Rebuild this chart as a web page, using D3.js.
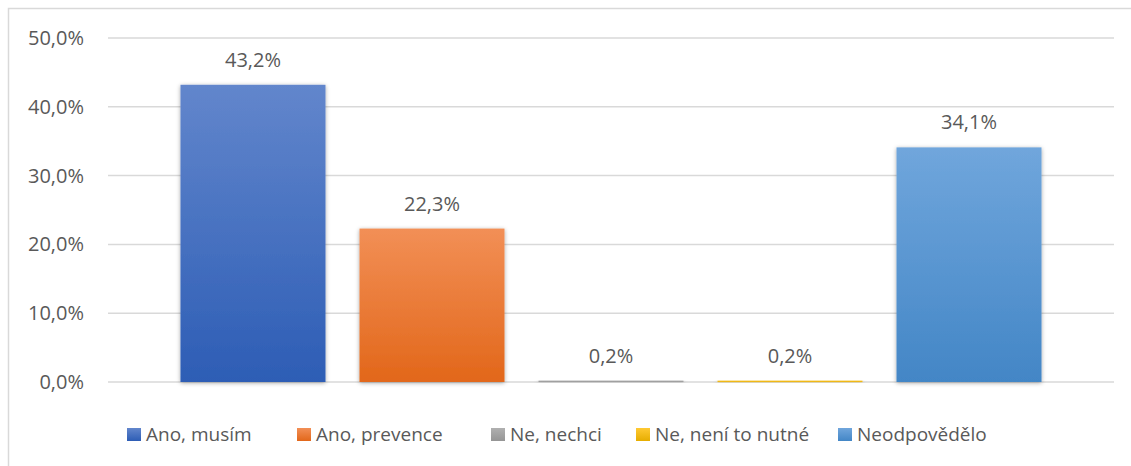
<!DOCTYPE html>
<html>
<head>
<meta charset="utf-8">
<style>
html, body { margin: 0; padding: 0; background: #fff; }
text { font-family: "Open Sans", "Noto Sans", sans-serif; fill: #595959; }
.grid line { stroke: #d9d9d9; stroke-width: 1.5; }
</style>
</head>
<body>
<script src="https://cdn.jsdelivr.net/npm/d3@7"></script>
<script>
var width = 1131
var height = 466

var series = ['Ano, musím', 'Ano, prevence', 'Ne, nechci', 'Ne, není to nutné', 'Neodpovědělo']
var values = [43.2, 22.3, 0.2, 0.2, 34.1]
var colorsTop = ['#6286cc', '#f28f56', '#b0b0b0', '#ffc933', '#70a6dc']
var colorsBottom = ['#2d5db5', '#e2671a', '#959595', '#e6ad00', '#4386c6']
var ticks = [0, 10, 20, 30, 40, 50]

var fmt = function (v) { return v.toFixed(1).replace('.', ',') }

var svg = d3.select('body').append('svg')
    .attr('width', width)
    .attr('height', height)

var defs = svg.append('defs')
series.forEach(function (s, i) {
    var g = defs.append('linearGradient')
        .attr('id', 'g' + i)
        .attr('x1', 0).attr('y1', 0).attr('x2', 0).attr('y2', 1)
    g.append('stop').attr('offset', '0%').attr('stop-color', colorsTop[i])
    g.append('stop').attr('offset', '100%').attr('stop-color', colorsBottom[i])
})
var f = defs.append('filter').attr('id', 'shadow')
    .attr('x', '-10%').attr('y', '-10%').attr('width', '120%').attr('height', '120%')
f.append('feDropShadow')
    .attr('dx', 0).attr('dy', 1).attr('stdDeviation', 2)
    .attr('flood-color', '#000').attr('flood-opacity', 0.35)

// outer chart border
svg.append('rect')
    .attr('x', 8.5).attr('y', 8.5)
    .attr('width', width + 20).attr('height', height + 20)
    .attr('fill', 'none')
    .attr('stroke', '#d9d9d9')
    .attr('stroke-width', 1.5)

var x0 = 108, x1 = 1114
var y = d3.scaleLinear().domain([0, 50]).range([382, 38])
var x = d3.scaleBand().domain(series).range([x0, x1])
    .paddingInner(0.19).paddingOuter(0.405)

svg.append('g').attr('class', 'grid')
    .selectAll('line').data(ticks).join('line')
    .attr('x1', x0).attr('x2', x1)
    .attr('y1', function (d) { return y(d) })
    .attr('y2', function (d) { return y(d) })

svg.append('g')
    .selectAll('text').data(ticks).join('text')
    .attr('x', 84)
    .attr('y', function (d) { return y(d) + 7 })
    .attr('text-anchor', 'end')
    .attr('font-size', 20)
    .text(function (d) { return fmt(d) + '%' })

svg.append('g')
    .selectAll('rect').data(values).join('rect')
    .attr('x', function (d, i) { return x(series[i]) })
    .attr('y', function (d) { return y(d) })
    .attr('width', x.bandwidth())
    .attr('height', function (d) { return Math.max(y(0) - y(d), 1.5) })
    .attr('fill', function (d, i) { return 'url(#g' + i + ')' })
    .attr('filter', 'url(#shadow)')

svg.append('g')
    .selectAll('text').data(values).join('text')
    .attr('x', function (d, i) { return x(series[i]) + x.bandwidth() / 2 })
    .attr('y', function (d) { return y(d) - 18 })
    .attr('text-anchor', 'middle')
    .attr('font-size', 20)
    .text(function (d) { return fmt(d) + '%' })

// legend
var legendX = [127, 297, 491, 636, 838]
var lg = svg.append('g').selectAll('g').data(series).join('g')
    .attr('transform', function (d, i) { return 'translate(' + legendX[i] + ',441)' })
lg.append('rect')
    .attr('x', 0).attr('y', -13)
    .attr('width', 14).attr('height', 13)
    .attr('fill', function (d, i) { return 'url(#g' + i + ')' })
lg.append('text')
    .attr('x', 19)
    .attr('font-size', 19)
    .text(function (d) { return d })
</script>
</body>
</html>
